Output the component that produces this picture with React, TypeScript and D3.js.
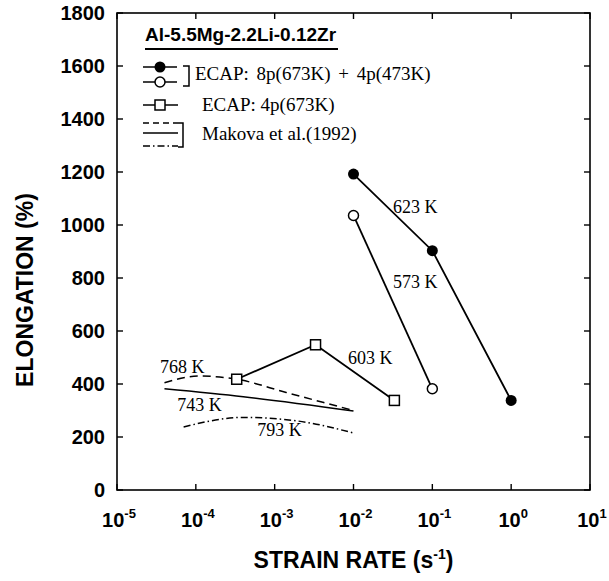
import React from "react";
import * as d3 from "d3";

// ECAP 8p(673K)+4p(473K), tested at 623 K (filled) and 573 K (open)
const rate623 = [0.01, 0.1, 1];
const elong623 = [1192, 903, 338];
const rate573 = [0.01, 0.1];
const elong573 = [1036, 382];
// ECAP 4p(673K), tested at 603 K
const rate603 = [3.3e-4, 3.3e-3, 3.3e-2];
const elong603 = [418, 548, 338];
// Makova et al. (1992)
const rate768 = [4e-5, 1.1e-4, 3.3e-4, 1.4e-3, 1e-2];
const elong768 = [405, 430, 418, 368, 300];
const rate743 = [4e-5, 4e-4, 1e-2];
const elong743 = [382, 352, 298];
const rate793 = [7e-5, 4e-4, 2e-3, 1e-2];
const elong793 = [238, 274, 260, 215];

const tempLabels = [
  { text: "623 K", rate: 0.0317, value: 1068 },
  { text: "573 K", rate: 0.0317, value: 785 },
  { text: "603 K", rate: 8.5e-3, value: 498 },
  { text: "768 K", rate: 3.5e-5, value: 464 },
  { text: "743 K", rate: 5.8e-5, value: 321 },
  { text: "793 K", rate: 6e-4, value: 226 },
];

const xTickExps = [-5, -4, -3, -2, -1, 0, 1];
const yTicks = [0, 200, 400, 600, 800, 1000, 1200, 1400, 1600, 1800];

const W = 609;
const H = 581;
const left = 117, right = 590, top = 13, bottom = 490;

const sans = "'Liberation Sans', Arial, sans-serif";
const serif = "'Liberation Serif', 'Times New Roman', serif";

const x = d3.scaleLog().domain([1e-5, 10]).range([left, right]);
const y = d3.scaleLinear().domain([0, 1800]).range([bottom, top]);

const zip = (xs: number[], ys: number[]): [number, number][] =>
  xs.map((v, i) => [v, ys[i]]);

const straight = d3
  .line<[number, number]>()
  .x((d) => x(d[0]))
  .y((d) => y(d[1]));
const smooth = d3
  .line<[number, number]>()
  .x((d) => x(d[0]))
  .y((d) => y(d[1]))
  .curve(d3.curveMonotoneX);

const DASH = "8,5";
const DASHDOT = "7,3,1.5,3";

export default function App() {
  const tick = 6;
  return (
    <svg
      width={W}
      height={H}
      style={{ position: "absolute", left: 0, top: 0, background: "#fff" }}
    >
      {/* frame */}
      <rect
        x={left}
        y={top}
        width={right - left}
        height={bottom - top}
        fill="none"
        stroke="#000"
        strokeWidth={1.6}
      />
      {/* x ticks */}
      {xTickExps.map((e) => {
        const px = x(Math.pow(10, e));
        return (
          <g key={"xt" + e}>
            <line x1={px} x2={px} y1={bottom} y2={bottom - tick} stroke="#000" strokeWidth={1.4} />
            <line x1={px} x2={px} y1={top} y2={top + tick} stroke="#000" strokeWidth={1.4} />
            <text
              x={px + 2}
              y={527}
              textAnchor="middle"
              fontFamily={sans}
              fontWeight="bold"
              fontSize={20}
            >
              10
              <tspan fontSize={13} dy={-9}>
                {String(e)}
              </tspan>
            </text>
          </g>
        );
      })}
      {/* y ticks */}
      {yTicks.map((v) => {
        const py = y(v);
        return (
          <g key={"yt" + v}>
            <line x1={left} x2={left + tick} y1={py} y2={py} stroke="#000" strokeWidth={1.4} />
            <line x1={right} x2={right - tick} y1={py} y2={py} stroke="#000" strokeWidth={1.4} />
            <text
              x={105}
              y={py + 7}
              textAnchor="end"
              fontFamily={sans}
              fontWeight="bold"
              fontSize={20}
            >
              {v}
            </text>
          </g>
        );
      })}
      {/* axis titles */}
      <text
        x={(left + right) / 2}
        y={568}
        textAnchor="middle"
        fontFamily={sans}
        fontWeight="bold"
        fontSize={23}
      >
        STRAIN RATE (s
        <tspan fontSize={14} dy={-9}>
          -1
        </tspan>
        <tspan dy={9}>)</tspan>
      </text>
      <text
        transform={`translate(33,${290}) rotate(-90)`}
        textAnchor="middle"
        fontFamily={sans}
        fontWeight="bold"
        fontSize={23}
      >
        ELONGATION (%)
      </text>

      {/* Makova curves */}
      <path d={smooth(zip(rate768, elong768)) || ""} fill="none" stroke="#000" strokeWidth={1.5} strokeDasharray={DASH} />
      <path d={smooth(zip(rate743, elong743)) || ""} fill="none" stroke="#000" strokeWidth={1.5} />
      <path d={smooth(zip(rate793, elong793)) || ""} fill="none" stroke="#000" strokeWidth={1.5} strokeDasharray={DASHDOT} />

      {/* ECAP series */}
      <path d={straight(zip(rate623, elong623)) || ""} fill="none" stroke="#000" strokeWidth={1.8} />
      <path d={straight(zip(rate573, elong573)) || ""} fill="none" stroke="#000" strokeWidth={1.8} />
      <path d={straight(zip(rate603, elong603)) || ""} fill="none" stroke="#000" strokeWidth={1.8} />
      {zip(rate623, elong623).map((d, i) => (
        <circle key={"f" + i} cx={x(d[0])} cy={y(d[1])} r={5.5} fill="#000" />
      ))}
      {zip(rate573, elong573).map((d, i) => (
        <circle key={"o" + i} cx={x(d[0])} cy={y(d[1])} r={5} fill="#fff" stroke="#000" strokeWidth={1.5} />
      ))}
      {zip(rate603, elong603).map((d, i) => (
        <rect key={"s" + i} x={x(d[0]) - 5} y={y(d[1]) - 5} width={10} height={10} fill="#fff" stroke="#000" strokeWidth={1.5} />
      ))}

      {tempLabels.map((l) => (
        <text
          key={l.text}
          x={x(l.rate)}
          y={y(l.value) + 6}
          fontFamily={serif}
          fontSize={18}
        >
          {l.text}
        </text>
      ))}

      {/* legend */}
      <g fontFamily={serif} fontSize={19}>
        <text x={145} y={41} fontFamily={sans} fontWeight="bold" fontSize={19}>
          Al-5.5Mg-2.2Li-0.12Zr
        </text>
        <line x1={145} x2={338} y1={49} y2={49} stroke="#000" strokeWidth={1.8} />

        <line x1={143} x2={177} y1={67} y2={67} stroke="#000" strokeWidth={1.5} />
        <circle cx={160} cy={67} r={5.5} fill="#000" />
        <line x1={143} x2={177} y1={82} y2={82} stroke="#000" strokeWidth={1.5} />
        <circle cx={160} cy={82} r={5} fill="#fff" stroke="#000" strokeWidth={1.5} />
        <path d="M183,66 H189 V86 H183" fill="none" stroke="#000" strokeWidth={1.5} />
        <text x={195} y={80} wordSpacing={3}>ECAP: 8p(673K) + 4p(473K)</text>

        <line x1={143} x2={178} y1={105} y2={105} stroke="#000" strokeWidth={1.5} />
        <rect x={155} y={100} width={10} height={10} fill="#fff" stroke="#000" strokeWidth={1.5} />
        <text x={202} y={111}>ECAP: 4p(673K)</text>

        <line x1={143} x2={178} y1={123} y2={123} stroke="#000" strokeWidth={1.3} strokeDasharray="6,4" />
        <line x1={143} x2={178} y1={133} y2={133} stroke="#000" strokeWidth={1.3} />
        <line x1={143} x2={178} y1={146} y2={146} stroke="#000" strokeWidth={1.3} strokeDasharray={DASHDOT} />
        <path d="M178,123 H183 V147 H178" fill="none" stroke="#000" strokeWidth={1.5} />
        <text x={202} y={140}>Makova et al.(1992)</text>
      </g>
    </svg>
  );
}
